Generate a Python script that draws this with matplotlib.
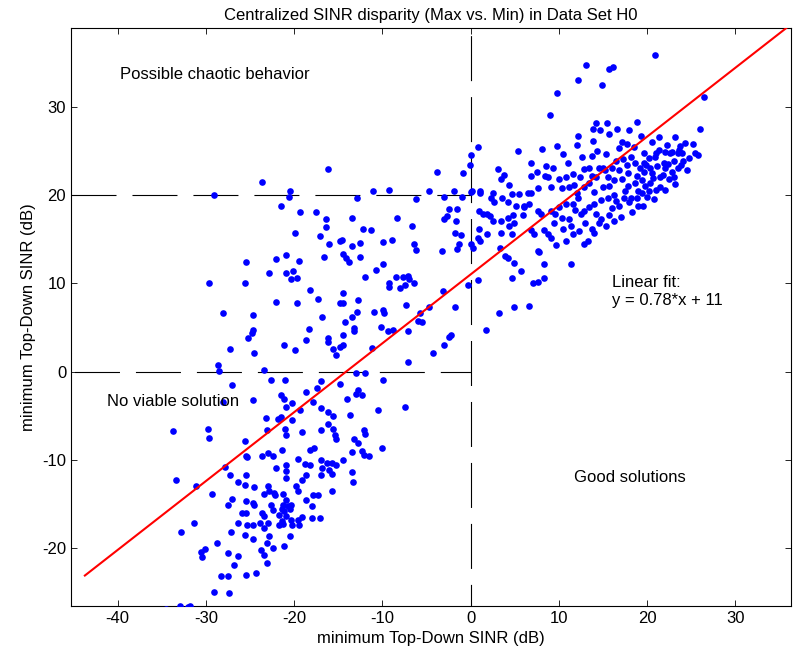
import matplotlib
matplotlib.use('Agg')
import matplotlib.pyplot as plt

plt.rcParams['font.family'] = ['Liberation Sans', 'DejaVu Sans']
plt.rcParams['lines.scale_dashes'] = False
plt.rcParams['axes.unicode_minus'] = False

# ---- data: (min SINR, top-down SINR) points ----
upper_right = [
    (20.9,35.8),(13.1,34.7),(15.7,34.3),(16.1,34.5),(12.2,33.0),(14.9,32.4),(9.8,31.5),(26.4,31.1),
    (9.0,29.0),(18.9,28.3),(14.2,28.2),(15.4,28.2),(13.9,27.5),(14.7,27.3),(16.6,27.5),(15.7,26.9),
    (12.2,26.7),(19.3,26.7),(26.0,27.5),(13.9,26.1),(8.1,25.2),(9.8,25.5),(12.0,25.7),(23.2,26.6),
    (25.2,25.8),(23.7,25.5),(21.3,26.6),(17.2,26.0),(17.7,25.8),(18.5,25.4),(19.6,24.7),(12.6,24.3),
    (13.8,24.4),(21.4,25.1),(22.0,24.9),(22.6,24.7),(22.8,24.9),(23.5,24.7),(23.6,25.1),(20.2,24.2),
    (20.9,24.3),(16.5,23.8),(17.3,24.1),(18.2,24.3),(18.6,23.6),(19.6,23.6),(19.9,23.4),(17.7,23.4),
    (21.1,23.3),(21.9,23.6),(22.4,23.5),(23.0,23.8),(8.5,23.3),(6.8,23.6),(12.9,22.9),(13.4,23.0),
    (14.5,23.1),(15.0,23.1),(15.2,22.8),(16.0,23.0),(16.8,22.8),(19.7,22.6),(20.3,23.0),(8.4,22.2),
    (8.8,22.0),(10.0,21.8),(10.8,22.0),(6.8,22.1),(13.7,22.2),(14.2,22.0),(15.6,22.0),(16.3,21.7),
    (17.1,21.8),(17.8,21.0),(18.6,21.3),(19.4,21.7),(20.3,21.3),(20.7,21.9),(11.7,21.1),(12.8,20.9),
    (13.4,21.3),(15.0,20.9),(15.7,21.0),(7.6,20.8),(9.1,20.9),(10.3,20.8),(11.1,20.9),
    (24.8,24.2),(25.4,24.8),(24.1,23.9),(23.5,23.0),(22.8,22.6),(21.8,22.3),(22.5,21.8),(21.0,20.6),
    (19.0,20.4),(20.0,19.8),(21.5,20.9),(23.0,22.0),
]
dense_core = [
    (17.5,20.5),(18.0,19.2),(18.8,19.6),(19.8,21.0),(20.5,22.5),(21.5,22.0),(22.0,23.0),(23.8,23.4),
    (24.5,22.8),(23.2,21.2),(22.0,20.6),(20.8,19.5),(19.5,18.7),(18.3,18.1),(17.0,17.5),(16.2,17.0),
    (15.3,16.5),(14.2,17.8),(13.0,16.8),(12.3,15.9),(11.8,18.3),(10.5,16.2),(9.6,17.8),(12.0,20.2),
    (14.0,20.3),(16.5,19.3),(17.8,22.5),(18.8,22.2),(19.2,23.0),(21.0,24.8),(22.3,25.6),(24.3,25.9),
    (25.8,24.5),(24.0,24.8),(20.5,26.0),(18.0,27.3),(16.8,25.3),(15.3,24.6),(14.3,25.0),(11.0,23.6),
    (10.5,24.6),(9.3,23.0),(7.5,22.6),(11.6,22.4),(12.4,22.0),
]
near_zero_top = [
    (0.8,25.4),(0.1,24.5),(5.4,25.0),(-0.1,23.4),(-3.8,22.6),(-0.9,22.5),(3.1,22.9),(3.8,22.3),
    (3.4,21.8),(4.3,21.1),(-11.1,20.5),(-9.2,20.6),(-4.7,20.4),(-1.9,20.5),(0.2,20.4),(1.1,20.4),
    (-16.2,22.9),(-23.6,21.5),(-20.5,20.5),
]
upper_left = [
    (-29.1,20.0),(-20.6,19.8),(-21.5,18.8),(-19.3,18.1),(-17.5,18.1),(-16.4,17.3),(-16.4,16.4),
    (-19.9,15.7),(-17.1,15.4),(-16.0,14.5),(-14.8,14.8),(-20.9,13.2),(-22.1,12.8),(-19.4,12.5),
    (-16.6,13.0),(-25.5,12.4),(-22.8,11.2),(-20.9,11.2),(-20.1,11.4),(-20.3,10.5),(-19.7,10.6),
    (-29.6,10.0),(-25.6,10.0),(-18.2,9.2),(-17.3,8.2),(-22.0,7.9),(-19.7,7.8),(-14.8,7.8),
    (-28.1,6.6),(-24.7,6.4),(-16.8,6.2),(-24.7,4.7),(-18.3,4.8),
]
middle = [
    (-12.9,19.7),(-6.2,19.5),(-3.0,19.8),(-1.0,19.8),(0.1,20.3),(1.1,20.2),(2.3,19.7),(2.6,19.2),
    (2.5,20.2),(3.6,19.6),(4.7,20.1),(5.5,20.1),(6.5,20.2),(4.2,19.2),(5.2,18.8),(6.0,18.8),
    (6.6,19.0),(-13.4,17.4),(-8.3,17.4),(-6.6,16.5),(-2.4,18.4),(-1.5,18.4),(-2.7,17.6),(-3.0,17.3),
    (-1.6,17.1),(0.9,18.2),(1.4,17.9),(1.9,17.8),(2.2,17.6),(2.5,17.0),(3.4,17.0),(4.2,17.4),
    (4.8,17.7),(4.9,16.8),(4.3,16.5),(6.0,18.6),(5.9,17.7),(0.9,16.2),(1.9,15.6),(3.4,15.7),
    (4.7,15.6),(-1.8,15.7),(-1.1,15.5),(0.8,15.1),(1.1,14.8),(-12.2,16.1),(-11.3,16.0),(-14.6,14.9),
    (-13.4,14.2),(-12.5,14.6),(-9.9,14.7),(-8.9,14.9),(-6.4,14.5),(-6.2,13.8),(-1.3,14.5),(-1.5,13.9),
    (-3.2,13.7),(0.0,14.5),(0.3,14.0),(3.3,14.0),(3.9,13.1),(4.2,12.9),(4.9,12.3),(5.7,11.4),
    (4.7,10.6),(-14.5,13.3),(-14.1,12.9),(-13.8,12.4),(-12.5,13.0),(-9.9,12.2),(-10.7,11.5),
    (-12.0,10.7),(-8.5,10.7),(-7.7,10.7),(-7.1,10.8),(-7.0,10.5),(-6.4,10.0),(-7.4,9.8),(-8.0,9.5),
    (-9.2,10.0),(-9.2,9.6),(-0.3,9.8),(0.8,10.4),(-14.4,8.9),(-3.1,9.1),(-12.8,8.1),(-14.5,7.8),
    (-7.3,7.5),(-1.8,7.3),(-4.7,7.3),(3.2,6.6),(4.9,7.3),(6.6,7.4),(-12.9,6.8),(-13.4,6.2),
    (-14.2,5.6),(-10.9,6.8),(-9.9,7.0),(-9.8,6.6),(-5.7,6.6),(-6.0,5.7),(-5.5,5.6),(-13.2,4.9),
    (-10.1,5.0),(1.7,4.7),(-9.3,4.6),(-8.8,4.7),
]
right_band = [
    (6.8,20.2),(7.6,18.2),(8.0,17.9),(6.8,16.0),(7.2,15.6),(8.3,16.0),(8.8,15.6),(9.1,15.1),
    (9.7,14.3),(7.6,13.7),(7.7,13.5),(9.5,16.8),(10.3,17.4),(11.1,17.3),(11.4,16.5),(10.8,14.8),
    (11.6,15.6),(12.8,14.5),(13.3,14.8),(13.7,16.2),(14.0,15.7),(14.5,16.8),(14.8,17.3),(15.7,17.7),
    (16.0,18.5),(16.8,18.8),(19.0,18.8),(17.4,19.6),(18.2,19.7),(19.4,20.2),(20.2,20.5),(12.5,17.9),
    (12.9,18.2),(13.4,18.6),(14.0,19.0),(14.8,19.4),(15.6,19.7),(16.3,20.0),(11.6,19.0),(12.2,19.6),
    (10.8,19.0),(10.0,18.6),(9.1,18.2),(8.3,12.2),(11.4,12.2),(8.3,10.6),(7.6,10.1),(7.1,10.0),
]
lower_mid = [
    (-24.8,4.4),(-25.2,3.8),(-18.6,3.6),(-16.2,3.8),(-16.1,3.3),(-15.6,2.6),(-15.2,1.9),(-14.8,2.8),
    (-27.3,2.6),(-24.5,2.1),(-21.1,3.0),(-19.9,2.4),(-28.6,0.8),(-28.5,0.1),(-23.4,0.2),(-22.6,-1.0),
    (-21.0,-0.9),(-27.0,-1.5),(-24.7,-3.2),(-28.0,-3.4),(-21.5,-2.6),(-21.1,-3.1),(-20.2,-3.5),
    (-20.9,-4.0),(-18.7,-2.3),(-17.4,-1.9),(-17.0,-1.1),(-17.8,-3.4),(-17.0,-4.1),(-16.1,-4.6),
    (-15.6,-5.0),(-16.2,-5.9),(-15.6,-6.5),(-15.4,-7.2),(-15.3,-7.6),(-19.3,-4.3),(-23.2,-5.2),
    (-21.8,-5.4),(-21.5,-5.1),(-20.2,-5.5),(-23.1,-6.6),(-21.0,-6.5),(-20.9,-7.2),(-19.1,-6.8),
    (-17.0,-6.6),(-33.7,-6.7),(-29.7,-6.5),(-29.6,-7.5),(-25.6,-7.8),(-25.3,-9.7),(-25.4,-9.5),
    (-22.9,-9.2),(-23.6,-9.5),(-22.4,-9.5),(-21.4,-8.9),(-18.2,-8.9),(-17.7,-8.7),(-27.8,-10.8),
    (-22.1,-10.9),(-20.9,-10.6),(-20.9,-11.2),(-19.5,-9.9),(-18.8,-10.5),(-18.2,-10.6),(-16.9,-10.0),
    (-16.3,-10.3),(-15.7,-10.4),(-15.3,-10.6),(-16.8,-10.9),(-16.0,-11.1),
    (-14.5,4.2),(-13.2,4.6),(-7.1,4.6),(-14.5,3.0),(-11.2,2.7),(-2.5,3.9),(-2.2,4.1),(-3.0,3.0),
    (-4.3,2.1),(-7.1,1.1),(-13.0,-0.2),(-12.0,-0.2),(-9.9,-0.9),(-14.8,-1.4),(-12.8,-2.1),
    (-13.0,-2.5),(-12.3,-2.7),(-14.0,-3.1),(-10.5,-4.3),(-7.4,-4.0),(-13.7,-4.9),(-12.1,-6.6),
    (-12.0,-7.1),(-13.2,-7.6),(-12.8,-8.1),(-10.0,-8.7),(-13.4,-9.1),(-12.3,-9.0),(-12.1,-9.4),
    (-11.5,-9.5),(-14.4,-10.0),(-13.4,-11.4),(-13.3,-12.5),
]
lower_left = [
    (-33.4,-12.3),(-31.1,-12.9),(-29.3,-13.8),(-27.2,-11.7),(-25.4,-11.7),(-26.4,-12.5),(-25.6,-12.8),
    (-24.5,-13.1),(-27.0,-14.4),(-27.5,-15.1),(-25.4,-14.7),(-24.6,-14.9),(-25.9,-16.0),(-25.5,-16.0),
    (-26.3,-17.1),(-25.3,-17.4),(-24.7,-17.4),(-25.6,-18.5),(-27.1,-18.1),(-24.7,-18.9),(-31.3,-17.1),
    (-32.8,-18.2),(-28.7,-19.4),(-30.5,-20.4),(-30.1,-20.1),(-30.4,-21.0),(-27.5,-20.5),(-26.4,-20.9),
    (-26.8,-21.9),(-28.3,-23.1),(-27.5,-23.1),(-29.1,-25.0),(-27.4,-25.1),(-25.5,-23.0),(-24.3,-22.8),
    (-34.5,-26.9),(-32.9,-26.5),(-32.9,-26.9),(-32.0,-26.7),(-31.8,-26.5),
    (-23.0,-12.9),(-22.8,-13.5),(-23.4,-13.9),(-22.3,-13.7),(-22.2,-14.0),(-24.5,-15.1),(-23.6,-16.0),
    (-23.4,-16.3),(-22.6,-15.1),(-22.4,-15.7),(-21.3,-13.9),(-20.9,-14.5),(-21.3,-15.1),(-20.7,-15.2),
    (-21.4,-15.6),(-21.1,-15.8),(-20.5,-15.6),(-21.7,-16.2),(-20.9,-16.3),(-20.3,-15.1),(-23.0,-17.1),
    (-23.9,-17.1),(-23.4,-17.7),(-22.8,-18.6),(-23.1,-19.4),(-23.4,-20.8),(-23.8,-20.2),(-22.4,-20.0),
    (-23.1,-21.7),(-21.4,-16.9),(-21.3,-17.3),(-21.7,-17.4),(-20.5,-18.6),(-21.1,-19.7),(-20.9,-12.0),
    (-19.8,-13.0),(-19.6,-13.5),(-19.1,-12.3),(-18.6,-11.7),(-18.6,-14.5),(-17.9,-14.0),(-17.3,-14.0),
    (-16.9,-11.7),(-15.7,-11.6),(-15.7,-13.5),(-18.0,-15.2),(-20.3,-16.8),(-19.6,-16.8),(-19.1,-16.5),
    (-20.2,-17.4),(-19.4,-17.4),(-18.0,-16.6),(-17.1,-16.6),
]

fit_slope = 0.78
fit_intercept = 11
fit_x = [-43.7, 37.5]

x_ticks = [-40, -30, -20, -10, 0, 10, 20, 30]
y_ticks = [-20, -10, 0, 10, 20, 30]

# ---- figure ----
fig = plt.figure(figsize=(7.93, 6.61), dpi=100)
ax = fig.add_axes([71/793, (661-605.7)/661, 720/793, 577.7/661])

groups = [upper_right, dense_core, near_zero_top, upper_left, middle, right_band, lower_mid, lower_left]
for g in groups:
    ax.scatter([p[0] for p in g], [p[1] for p in g], s=23, color='#0000ff',
               linewidths=0, zorder=3)

ax.plot(fit_x, [fit_slope*v + fit_intercept for v in fit_x], color='#ff0000', lw=1.5, zorder=4)

xmin, xmax, ymin, ymax = -45.27, 36.3, -26.5, 38.9
ax.set_xlim(xmin, xmax)
ax.set_ylim(ymin, ymax)

dash = (32.4, 11.5)
ax.plot([0, 0], [ymax, ymin], color='k', lw=0.8, linestyle=(38.4, dash), zorder=2)
ax.plot([xmin, 0], [20, 20], color='k', lw=0.8, linestyle=(0, dash), zorder=2)
ax.plot([xmin, 0], [0, 0], color='k', lw=0.8, linestyle=(41.4, dash), zorder=2)

ax.set_xticks(x_ticks)
ax.set_yticks(y_ticks)
ax.tick_params(direction='in', top=True, right=True, length=4.5, width=0.6, labelsize=12)
for s in ax.spines.values():
    s.set_linewidth(0.8)

fs = 12
ax.text(-39.7, 33.1, 'Possible chaotic behavior', fontsize=fs, va='baseline')
ax.text(-41.2, -3.9, 'No viable solution', fontsize=fs, va='baseline')
ax.text(16.0, 9.6, 'Linear fit:', fontsize=fs, va='baseline')
ax.text(16.0, 7.5, 'y = 0.78*x + 11', fontsize=fs, va='baseline')
ax.text(11.7, -12.5, 'Good solutions', fontsize=fs, va='baseline')

ax.set_xlabel('minimum Top-Down SINR (dB)', fontsize=12)
ax.set_ylabel('minimum Top-Down SINR (dB)', fontsize=12)
ax.set_title('Centralized SINR disparity (Max vs. Min) in Data Set H0', fontsize=12)

fig.savefig('out.png', dpi=100)
